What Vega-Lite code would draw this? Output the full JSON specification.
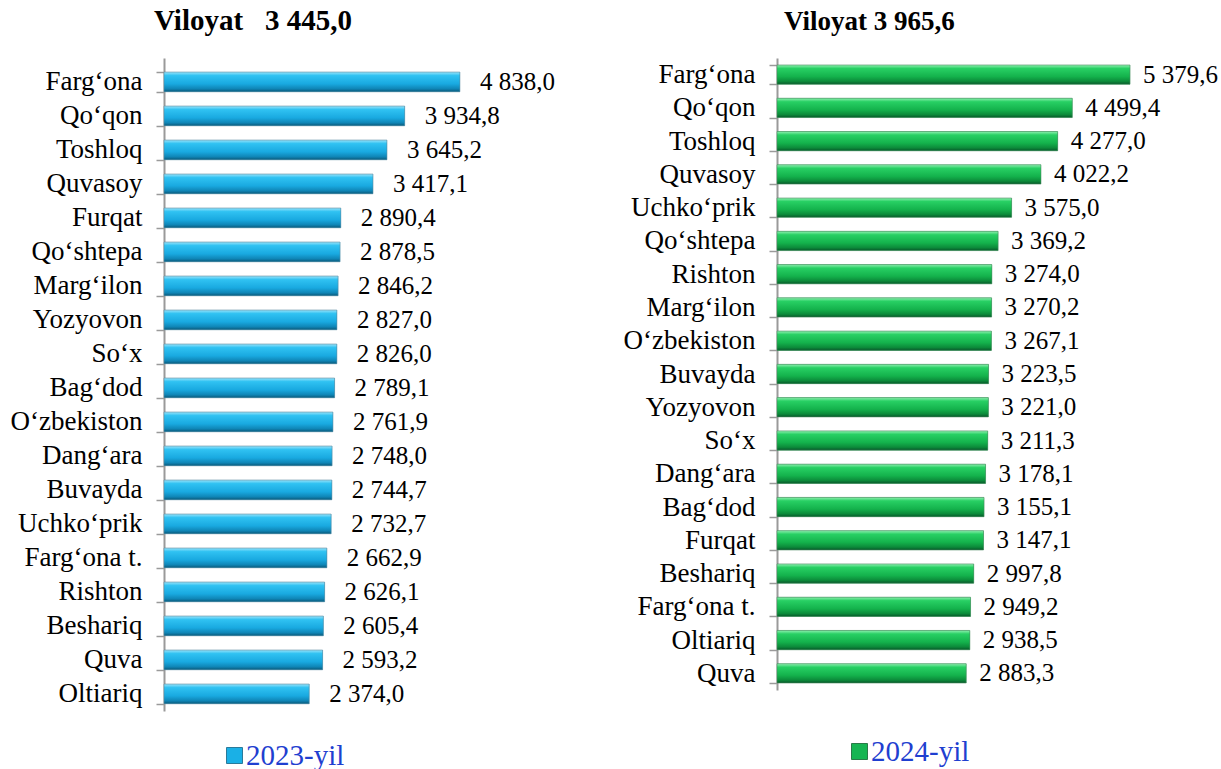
{
  "$schema": "https://vega.github.io/schema/vega-lite/v6.json",
  "padding": {"left": 10, "top": 7, "right": 0, "bottom": 0},
  "background": "white",
  "config": {
    "locale": {"number": {"decimal": ",", "thousands": " ", "grouping": [3], "currency": ["", ""]}},
    "view": {"stroke": null},
    "font": "Liberation Serif",
    "axis": {"grid": false}
  },
  "bounds": "full",
  "spacing": 59,
  "resolve": {"scale": {"color": "independent", "y": "independent", "x": "independent"}, "legend": {"color": "independent"}},
  "hconcat": [
    {
      "width": 400,
      "height": 653,
      "title": {"text": "Viloyat\u00a0\u00a0\u00a03 445,0", "anchor": "start", "frame": "group", "dx": -10, "fontSize": 29, "font": "Liberation Serif", "fontWeight": "bold", "color": "black", "offset": 8},
      "data": {"values": [
        {"hudud": "Farg‘ona", "qiymat": 4838.0, "yil": "2023-yil"},
        {"hudud": "Qo‘qon", "qiymat": 3934.8, "yil": "2023-yil"},
        {"hudud": "Toshloq", "qiymat": 3645.2, "yil": "2023-yil"},
        {"hudud": "Quvasoy", "qiymat": 3417.1, "yil": "2023-yil"},
        {"hudud": "Furqat", "qiymat": 2890.4, "yil": "2023-yil"},
        {"hudud": "Qo‘shtepa", "qiymat": 2878.5, "yil": "2023-yil"},
        {"hudud": "Marg‘ilon", "qiymat": 2846.2, "yil": "2023-yil"},
        {"hudud": "Yozyovon", "qiymat": 2827.0, "yil": "2023-yil"},
        {"hudud": "So‘x", "qiymat": 2826.0, "yil": "2023-yil"},
        {"hudud": "Bag‘dod", "qiymat": 2789.1, "yil": "2023-yil"},
        {"hudud": "O‘zbekiston", "qiymat": 2761.9, "yil": "2023-yil"},
        {"hudud": "Dang‘ara", "qiymat": 2748.0, "yil": "2023-yil"},
        {"hudud": "Buvayda", "qiymat": 2744.7, "yil": "2023-yil"},
        {"hudud": "Uchko‘prik", "qiymat": 2732.7, "yil": "2023-yil"},
        {"hudud": "Farg‘ona t.", "qiymat": 2662.9, "yil": "2023-yil"},
        {"hudud": "Rishton", "qiymat": 2626.1, "yil": "2023-yil"},
        {"hudud": "Beshariq", "qiymat": 2605.4, "yil": "2023-yil"},
        {"hudud": "Quva", "qiymat": 2593.2, "yil": "2023-yil"},
        {"hudud": "Oltiariq", "qiymat": 2374.0, "yil": "2023-yil"}
      ]},
      "encoding": {
        "y": {"field": "hudud", "type": "nominal", "sort": "-x",
          "scale": {"paddingInner": 0.42, "paddingOuter": 0.313, "align": 0.66},
          "axis": {"title": null, "labelFont": "Liberation Serif", "labelFontSize": 27, "labelColor": "black", "labelPadding": 14, "domainColor": "#9a9a9a", "domainWidth": 2, "tickColor": "#9a9a9a", "tickWidth": 1.5, "tickSize": 8, "tickBand": "extent", "labelLimit": 300}},
        "x": {"field": "qiymat", "type": "quantitative", "scale": {"domain": [0, 6540], "nice": false}, "axis": null}
      },
      "layer": [
        {"mark": {"type": "bar"},
         "encoding": {"color": {"field": "yil", "type": "nominal", "scale": {"range": ["#1ab0e6"]},
           "legend": {"title": null, "orient": "none", "legendX": 56, "legendY": 683, "padding": 0, "symbolType": "square", "symbolSize": 256, "symbolStrokeColor": "#2a7a9a", "symbolStrokeWidth": 1, "labelFont": "Liberation Serif", "labelFontSize": 29, "labelColor": "#1f3fd0", "labelOffset": -3}}}},
        {"mark": {"type": "bar", "stroke": "#5a8aa0", "strokeWidth": 0.6, "color": {"gradient": "linear", "x1": 0, "y1": 0, "x2": 0, "y2": 1, "stops": [
          {"offset": 0, "color": "#9ae4fb"}, {"offset": 0.18, "color": "#30c2f2"}, {"offset": 0.6, "color": "#19a9e0"}, {"offset": 0.85, "color": "#0f85b6"}, {"offset": 1, "color": "#0a5878"}]}}},
        {"mark": {"type": "text", "align": "left", "baseline": "middle", "dx": 20, "fontSize": 25, "font": "Liberation Serif", "color": "black"},
         "encoding": {"text": {"field": "qiymat", "type": "quantitative", "format": ",.1f"}}}
      ]
    },
    {
      "width": 440,
      "height": 632,
      "title": {"text": "Viloyat 3 965,6", "anchor": "start", "frame": "group", "dx": 7, "fontSize": 27, "font": "Liberation Serif", "fontWeight": "bold", "color": "black", "offset": 8},
      "data": {"values": [
        {"hudud": "Farg‘ona", "qiymat": 5379.6, "yil": "2024-yil"},
        {"hudud": "Qo‘qon", "qiymat": 4499.4, "yil": "2024-yil"},
        {"hudud": "Toshloq", "qiymat": 4277.0, "yil": "2024-yil"},
        {"hudud": "Quvasoy", "qiymat": 4022.2, "yil": "2024-yil"},
        {"hudud": "Uchko‘prik", "qiymat": 3575.0, "yil": "2024-yil"},
        {"hudud": "Qo‘shtepa", "qiymat": 3369.2, "yil": "2024-yil"},
        {"hudud": "Rishton", "qiymat": 3274.0, "yil": "2024-yil"},
        {"hudud": "Marg‘ilon", "qiymat": 3270.2, "yil": "2024-yil"},
        {"hudud": "O‘zbekiston", "qiymat": 3267.1, "yil": "2024-yil"},
        {"hudud": "Buvayda", "qiymat": 3223.5, "yil": "2024-yil"},
        {"hudud": "Yozyovon", "qiymat": 3221.0, "yil": "2024-yil"},
        {"hudud": "So‘x", "qiymat": 3211.3, "yil": "2024-yil"},
        {"hudud": "Dang‘ara", "qiymat": 3178.1, "yil": "2024-yil"},
        {"hudud": "Bag‘dod", "qiymat": 3155.1, "yil": "2024-yil"},
        {"hudud": "Furqat", "qiymat": 3147.1, "yil": "2024-yil"},
        {"hudud": "Beshariq", "qiymat": 2997.8, "yil": "2024-yil"},
        {"hudud": "Farg‘ona t.", "qiymat": 2949.2, "yil": "2024-yil"},
        {"hudud": "Oltiariq", "qiymat": 2938.5, "yil": "2024-yil"},
        {"hudud": "Quva", "qiymat": 2883.3, "yil": "2024-yil"}
      ]},
      "encoding": {
        "y": {"field": "hudud", "type": "nominal", "sort": "-x",
          "scale": {"paddingInner": 0.42, "paddingOuter": 0.21},
          "axis": {"title": null, "labelFont": "Liberation Serif", "labelFontSize": 27, "labelColor": "black", "labelPadding": 14, "domainColor": "#9a9a9a", "domainWidth": 2, "tickColor": "#9a9a9a", "tickWidth": 1.5, "tickSize": 8, "tickBand": "extent", "labelLimit": 300}},
        "x": {"field": "qiymat", "type": "quantitative", "scale": {"domain": [0, 6705], "nice": false}, "axis": null}
      },
      "layer": [
        {"mark": {"type": "bar"},
         "encoding": {"color": {"field": "yil", "type": "nominal", "scale": {"range": ["#16b552"]},
           "legend": {"title": null, "orient": "none", "legendX": 68, "legendY": 679, "padding": 0, "symbolType": "square", "symbolSize": 256, "symbolStrokeColor": "#2a7a48", "symbolStrokeWidth": 1, "labelFont": "Liberation Serif", "labelFontSize": 29, "labelColor": "#1f3fd0", "labelOffset": -3}}}},
        {"mark": {"type": "bar", "stroke": "#4a8a60", "strokeWidth": 0.6, "color": {"gradient": "linear", "x1": 0, "y1": 0, "x2": 0, "y2": 1, "stops": [
          {"offset": 0, "color": "#8ff0b0"}, {"offset": 0.18, "color": "#28d064"}, {"offset": 0.6, "color": "#14b24c"}, {"offset": 0.85, "color": "#0c8a3a"}, {"offset": 1, "color": "#07582a"}]}}},
        {"mark": {"type": "text", "align": "left", "baseline": "middle", "dx": 13, "fontSize": 25, "font": "Liberation Serif", "color": "black"},
         "encoding": {"text": {"field": "qiymat", "type": "quantitative", "format": ",.1f"}}}
      ]
    }
  ]
}
